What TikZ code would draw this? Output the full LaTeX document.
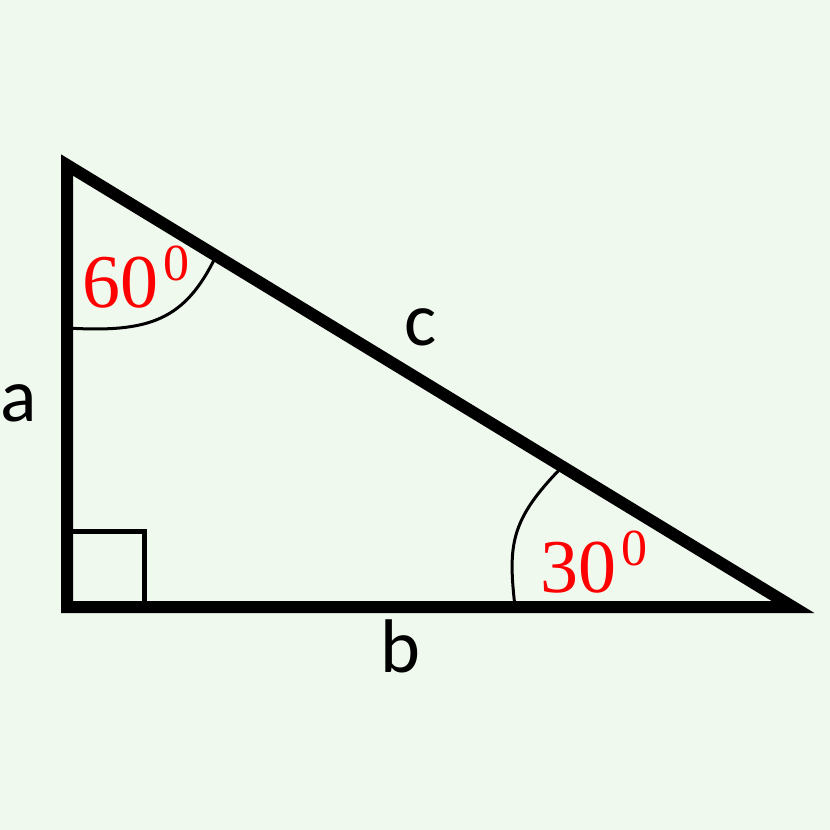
\documentclass[tikz,border=0pt]{standalone}
\usepackage{fontspec}
\setmainfont{Carlito}
\newfontfamily\degfont{Liberation Serif}
\definecolor{bgc}{RGB}{240,249,238}
\begin{document}
\begin{tikzpicture}[x=1pt,y=-1pt,
  side/.style={line width=12pt, line join=miter, draw=black},
  anglearc/.style={line width=3pt, draw=black},
  rightmark/.style={line width=5pt, draw=black},
  sidelabel/.style={inner sep=0pt, font=\fontsize{76}{76}\selectfont},
  deglabel/.style={inner sep=0pt, text=red, font=\degfont\fontsize{76}{76}\selectfont},
  degsup/.style={inner sep=0pt, text=red, font=\degfont\fontsize{52}{52}\selectfont}]
\fill[bgc] (0,0) rectangle (830,830);
\useasboundingbox (0,0) rectangle (830,830);
\coordinate (A) at (67,165);
\coordinate (B) at (67,607);
\coordinate (C) at (793,607);
% angle arcs
\coordinate (a60s) at (67,328);
\coordinate (a60e) at (216,256);
\draw[anglearc] (a60s) .. controls (150,333) and (185,320) .. (a60e);
\coordinate (a30s) at (515,607);
\coordinate (a30e) at (562,467);
\draw[anglearc] (a30s) .. controls (508,545) and (510,520) .. (a30e);
% right angle mark
\coordinate (r1) at (67,531);
\coordinate (r2) at (144.5,531);
\coordinate (r3) at (144.5,607);
\draw[rightmark] (r1) -- (r2) -- (r3);
% triangle
\draw[side] (A) -- (B) -- (C) -- cycle;
% labels
\node[sidelabel] (la) at (19,403.5) {a};
\node[sidelabel] (lb) at (400.5,646) {b};
\node[sidelabel] (lc) at (421,327.5) {c};
\node[deglabel] (d60) at (120,282.5) {60};
\node[degsup] (s60) at (176.5,263.5) {0};
\node[deglabel] (d30) at (578,567.5) {30};
\node[degsup] (s30) at (634.5,548.5) {0};
\end{tikzpicture}
\end{document}
